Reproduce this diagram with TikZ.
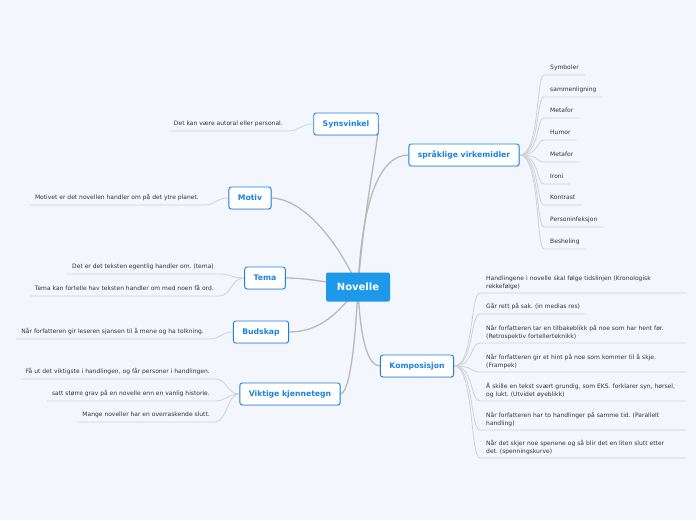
\documentclass[tikz,border=0pt]{standalone}
\usepackage{fontspec}
\setmainfont{DejaVu Sans}
\frenchspacing
\usetikzlibrary{backgrounds,shadows}
\definecolor{bgc}{HTML}{F3F6FD}
\definecolor{mmblue}{HTML}{1B82E0}
\definecolor{mmfill}{HTML}{1E98E8}
\definecolor{lnk}{HTML}{B9B9B9}
\definecolor{sub}{HTML}{D0D2D6}
\definecolor{txt}{HTML}{333333}

\begin{document}
\begin{tikzpicture}[x=1pt,y=-1pt,
  c/.style={fill=mmfill,rounded corners=2pt,minimum width=64pt,minimum height=29pt,text=white,font=\fontsize{10}{12}\selectfont\bfseries},
  m/.style={draw=mmblue,line width=.9pt,fill=white,rounded corners=2.5pt,minimum height=22pt,inner xsep=9pt,text=mmblue,
    font=\fontsize{7.7}{9}\selectfont\bfseries,drop shadow={opacity=.2,shadow xshift=.5pt,shadow yshift=-1pt}},
  lr/.style={anchor=south west,inner xsep=6pt,inner ysep=3.5pt,text depth=1.5pt,text=txt,font=\fontsize{6}{8}\selectfont,align=left},
  ll/.style={anchor=south east,inner xsep=5pt,inner ysep=3.5pt,text depth=1.5pt,text=txt,font=\fontsize{6}{8}\selectfont},
  k/.style={anchor=south west,inner xsep=6pt,inner ysep=3pt,text=txt,font=\fontsize{6}{8}\selectfont,align=left,text width=194pt},
  e/.style={draw=lnk,line width=1.3pt},
  s/.style={draw=sub,line width=.8pt}]
  \useasboundingbox (0,0) rectangle (696,520);
  \node[c] (nov) at (358,287) {Novelle};
  \node[m] (syn) at (346,124) {Synsvinkel};\node[m] (spr) at (464,155) {språklige virkemidler};
  \node[m] (mot) at (250,198) {Motiv};\node[m] (tema) at (265,278) {Tema};\node[m] (bud) at (261,332) {Budskap};
  \node[m] (kom) at (417,366) {Komposisjon};\node[m] (vik) at (290,394) {Viktige kjennetegn};
  \node[lr] (v1) at (544,75) {Symboler};\node[lr] (v2) at (544,97) {sammenligning};\node[lr] (v3) at (544,118) {Metafor};
  \node[lr] (v4) at (544,140) {Humor};\node[lr] (v5) at (544,162) {Metafor};\node[lr] (v6) at (544,184) {Ironi};
  \node[lr] (v7) at (544,205) {Kontrast};\node[lr] (v8) at (544,227) {Personinfeksjon};\node[lr] (v9) at (544,249) {Besheling};
  \node[k] (k1) at (480,293) {Handlingene i novelle skal følge tidslinjen (Kronologisk\\rekkefølge)};
  \node[lr] (k2) at (480,314) {Går rett på sak. (in medias res)};
  \node[k] (k3) at (480,343) {Når forfatteren tar en tilbakeblikk på noe som har hent før.\\(Retrospektiv fortellerteknikk)};
  \node[k] (k4) at (480,372) {Når forfatteren gir et hint på noe som kommer til å skje.\\(Frampek)};
  \node[k] (k5) at (480,401) {Å skille en tekst svært grundig, som EKS. forklarer syn, hørsel,\\og lukt. (Utvidet øyeblikk)};
  \node[k] (k6) at (480,430) {Når forfatteren har to handlinger på samme tid. (Parallelt\\handling)};
  \node[k] (k7) at (480,458) {Når det skjer noe spenene og så blir det en liten slutt etter\\det. (spenningskurve)};
  \node[ll] (synl) at (288,131) {Det kan være autoral eller personal.};
  \node[ll] (motl) at (204,205) {Motivet er det novellen handler om på det ytre planet.};
  \node[ll] (tl1) at (219,274) {Det er det teksten egentlig handler om. (tema)};
  \node[ll] (tl2) at (219,296) {Tema kan fortelle hav teksten handler om med noen få ord.};
  \node[ll] (budl) at (209,339) {Når forfatteren gir leseren sjansen til å mene og ha tolkning.};
  \node[ll] (vl1) at (215,379) {Få ut det viktigste i handlingen, og får personer i handlingen.};
  \node[ll] (vl2) at (215,401) {satt større grav på en novelle enn en vanlig historie.};
  \node[ll] (vl3) at (215,422) {Mange noveller har en overraskende slutt.};
  \begin{pgfonlayer}{background}
    \fill[bgc] (0,0) rectangle (696,520);
    \draw[e] (nov.center) .. controls (364,210) and (377,150) .. (syn.east);
    \draw[e] (nov.center) .. controls (362,200) and (380,155) .. (spr.west);
    \draw[e] (mot.east) .. controls (305,199) and (340,245) .. (nov.center);
    \draw[e] (tema.east) .. controls (305,278) and (320,281) .. (nov.center);
    \draw[e] (bud.east) .. controls (320,332) and (340,312) .. (nov.center);
    \draw[e] (vik.east) .. controls (351,392) and (356,330) .. (nov.center);
    \draw[e] (kom.west) .. controls (368,366) and (360,340) .. (nov.center);
    \draw[s] (spr.east) .. controls (540,155) and (536,75) .. (v1.south west) -- (v1.south east);
    \draw[s] (spr.east) .. controls (540,155) and (536,97) .. (v2.south west) -- (v2.south east);
    \draw[s] (spr.east) .. controls (540,155) and (536,118) .. (v3.south west) -- (v3.south east);
    \draw[s] (spr.east) .. controls (540,155) and (536,140) .. (v4.south west) -- (v4.south east);
    \draw[s] (spr.east) .. controls (540,155) and (536,162) .. (v5.south west) -- (v5.south east);
    \draw[s] (spr.east) .. controls (540,155) and (536,184) .. (v6.south west) -- (v6.south east);
    \draw[s] (spr.east) .. controls (540,155) and (536,205) .. (v7.south west) -- (v7.south east);
    \draw[s] (spr.east) .. controls (540,155) and (536,227) .. (v8.south west) -- (v8.south east);
    \draw[s] (spr.east) .. controls (540,155) and (536,249) .. (v9.south west) -- (v9.south east);
    \draw[s] (kom.east) .. controls (474,366) and (470,293) .. (k1.south west) -- (k1.south east);
    \draw[s] (kom.east) .. controls (474,366) and (470,314) .. (k2.south west) -- (k2.south east);
    \draw[s] (kom.east) .. controls (474,366) and (470,343) .. (k3.south west) -- (k3.south east);
    \draw[s] (kom.east) .. controls (474,366) and (470,372) .. (k4.south west) -- (k4.south east);
    \draw[s] (kom.east) .. controls (474,366) and (470,401) .. (k5.south west) -- (k5.south east);
    \draw[s] (kom.east) .. controls (474,366) and (470,430) .. (k6.south west) -- (k6.south east);
    \draw[s] (kom.east) .. controls (474,366) and (470,458) .. (k7.south west) -- (k7.south east);
    \draw[s] (syn.west) .. controls (300,124) and (300,131) .. (synl.south east) -- (synl.south west);
    \draw[s] (mot.west) .. controls (216,198) and (216,205) .. (motl.south east) -- (motl.south west);
    \draw[s] (tema.west) .. controls (231,278) and (231,274) .. (tl1.south east) -- (tl1.south west);
    \draw[s] (tema.west) .. controls (231,278) and (231,296) .. (tl2.south east) -- (tl2.south west);
    \draw[s] (bud.west) .. controls (221,332) and (221,339) .. (budl.south east) -- (budl.south west);
    \draw[s] (vik.west) .. controls (227,394) and (227,379) .. (vl1.south east) -- (vl1.south west);
    \draw[s] (vik.west) .. controls (227,394) and (227,401) .. (vl2.south east) -- (vl2.south west);
    \draw[s] (vik.west) .. controls (227,394) and (227,422) .. (vl3.south east) -- (vl3.south west);
  \end{pgfonlayer}
\end{tikzpicture}
\end{document}
